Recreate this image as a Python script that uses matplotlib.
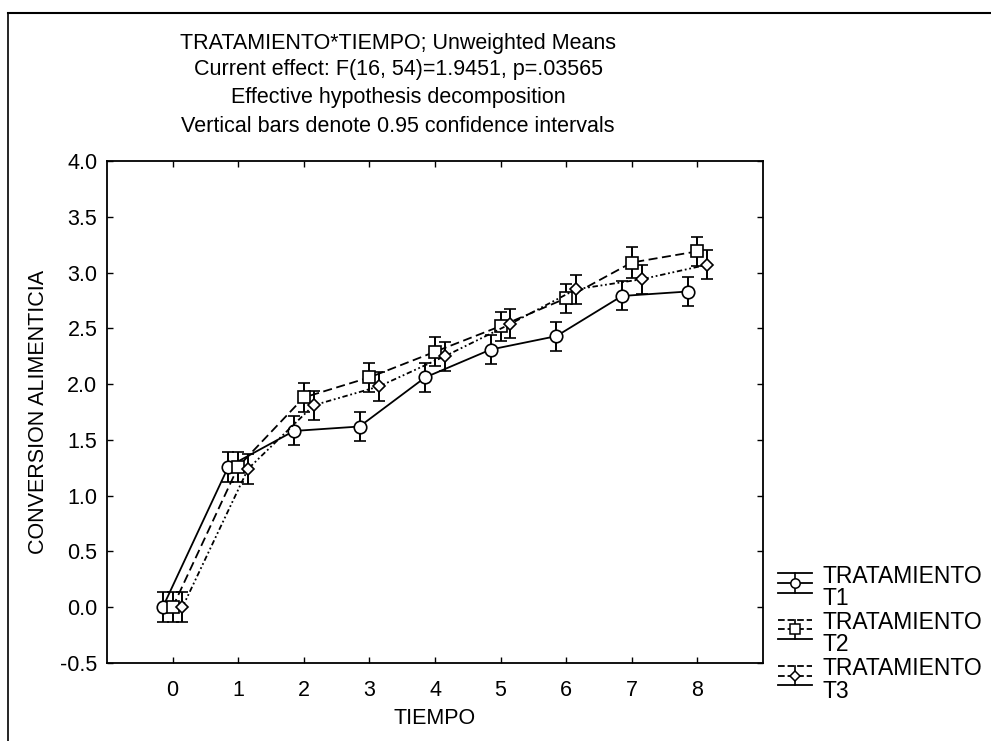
import matplotlib
matplotlib.use("Agg")
import matplotlib.pyplot as plt
from matplotlib.lines import Line2D
from matplotlib.legend_handler import HandlerBase

plt.rcParams['font.family'] = ['Liberation Sans', 'DejaVu Sans']

tiempo = [0, 1, 2, 3, 4, 5, 6, 7, 8]
t1 = [0.00, 1.26, 1.58, 1.62, 2.06, 2.31, 2.43, 2.79, 2.83]
t2 = [0.00, 1.26, 1.88, 2.06, 2.29, 2.52, 2.77, 3.09, 3.19]
t3 = [0.00, 1.24, 1.81, 1.98, 2.25, 2.54, 2.85, 2.94, 3.07]
ci1 = [0.135, 0.135, 0.13, 0.13, 0.13, 0.13, 0.13, 0.13, 0.13]
ci2 = [0.135, 0.135, 0.13, 0.13, 0.13, 0.13, 0.13, 0.135, 0.13]
ci3 = [0.135, 0.135, 0.13, 0.13, 0.13, 0.13, 0.13, 0.13, 0.13]
series_labels = ["TRATAMIENTO\nT1", "TRATAMIENTO\nT2", "TRATAMIENTO\nT3"]
title_lines = ["TRATAMIENTO*TIEMPO; Unweighted Means",
               "Current effect: F(16, 54)=1.9451, p=.03565",
               "Effective hypothesis decomposition",
               "Vertical bars denote 0.95 confidence intervals"]

fig = plt.figure(figsize=(9.91, 7.41), dpi=100)
ax = fig.add_axes([107/991, 1-663/741, 656/991, (663-161)/741])

offsets = [-0.15, 0.0, 0.15]
markers = ['o', 's', 'D']
msizes = [9, 9, 6.5]
styles = ['-', (0, (5, 2.5)), (0, (3, 1.5, 1, 1.5, 1, 1.5))]
data = [(t1, ci1), (t2, ci2), (t3, ci3)]

proxies = []
for i, (vals, ci) in enumerate(data):
    xs = [t + offsets[i] for t in tiempo]
    ax.errorbar(xs, vals, yerr=ci, color='black', linestyle=styles[i], linewidth=1.3,
                marker=markers[i], markersize=msizes[i], markerfacecolor='white',
                markeredgecolor='black', markeredgewidth=1.2,
                ecolor='black', elinewidth=1.4, capsize=4, capthick=1.4, zorder=3)
    proxies.append(Line2D([], [], color='black', linestyle=styles[i], linewidth=1.3,
                          marker=markers[i], markersize=msizes[i] * 0.75,
                          markerfacecolor='white', markeredgecolor='black',
                          markeredgewidth=1.1))


class HandlerCIBox(HandlerBase):
    def create_artists(self, legend, orig_handle, xdescent, ydescent, width,
                       height, fontsize, trans):
        ls = orig_handle.get_linestyle()
        ymid = height / 2 - ydescent + 4
        top = ymid + 7
        bot = ymid - 7
        x0, x1 = -xdescent, -xdescent + width
        xc = (x0 + x1) / 2
        arts = [
            Line2D([x0, x1], [top, top], color='black', lw=1.3, linestyle=ls),
            Line2D([x0, x1], [bot, bot], color='black', lw=1.3),
            Line2D([x0, x1], [ymid, ymid], color='black', lw=1.3, linestyle=ls),
            Line2D([xc, xc], [bot, top], color='black', lw=1.2),
            Line2D([xc], [ymid], marker=orig_handle.get_marker(),
                   markersize=orig_handle.get_markersize(),
                   markerfacecolor='white', markeredgecolor='black',
                   markeredgewidth=1.1, linestyle='none'),
        ]
        for a in arts:
            a.set_transform(trans)
        return arts


ax.set_xlim(-1, 9)
ax.set_ylim(-0.5, 4.0)
ax.set_xticks(tiempo)
ax.set_yticks([-0.5, 0.0, 0.5, 1.0, 1.5, 2.0, 2.5, 3.0, 3.5, 4.0])
ax.set_yticklabels(['-0.5', '0.0', '0.5', '1.0', '1.5', '2.0', '2.5', '3.0', '3.5', '4.0'])
ax.tick_params(direction='in', top=True, right=True, length=4, width=1,
               labelsize=15.5)
ax.tick_params(axis='x', pad=12)
ax.tick_params(axis='y', pad=7)
for sp in ax.spines.values():
    sp.set_linewidth(1.3)

ax.set_xlabel("TIEMPO", fontsize=15.5, labelpad=5)
ax.set_ylabel("CONVERSION ALIMENTICIA", fontsize=15.5, labelpad=8)

ty = [1-44/741, 1-70/741, 1-98/741, 1-127/741]
for t, y in zip(title_lines, ty):
    fig.text(398/991, y, t, ha='center', va='center', fontsize=15.5)

leg = ax.legend(proxies, series_labels, handler_map={Line2D: HandlerCIBox()},
                loc='upper left', bbox_to_anchor=(778/991, 1-565/741),
                bbox_transform=fig.transFigure, frameon=False, fontsize=16.5,
                handlelength=1.5, handleheight=1.0, handletextpad=0.45,
                labelspacing=0.05, borderaxespad=0, borderpad=0)
for txt in leg.get_texts():
    txt.set_linespacing(0.95)

# outer frame (top and left border of the scanned figure)
fig.add_artist(Line2D([8/991, 8/991], [0, 1-13/741], transform=fig.transFigure,
                      color='black', linewidth=1.2))
fig.add_artist(Line2D([8/991, 1], [1-13/741, 1-13/741], transform=fig.transFigure,
                      color='black', linewidth=1.5))

fig.savefig("out.png", dpi=100)
